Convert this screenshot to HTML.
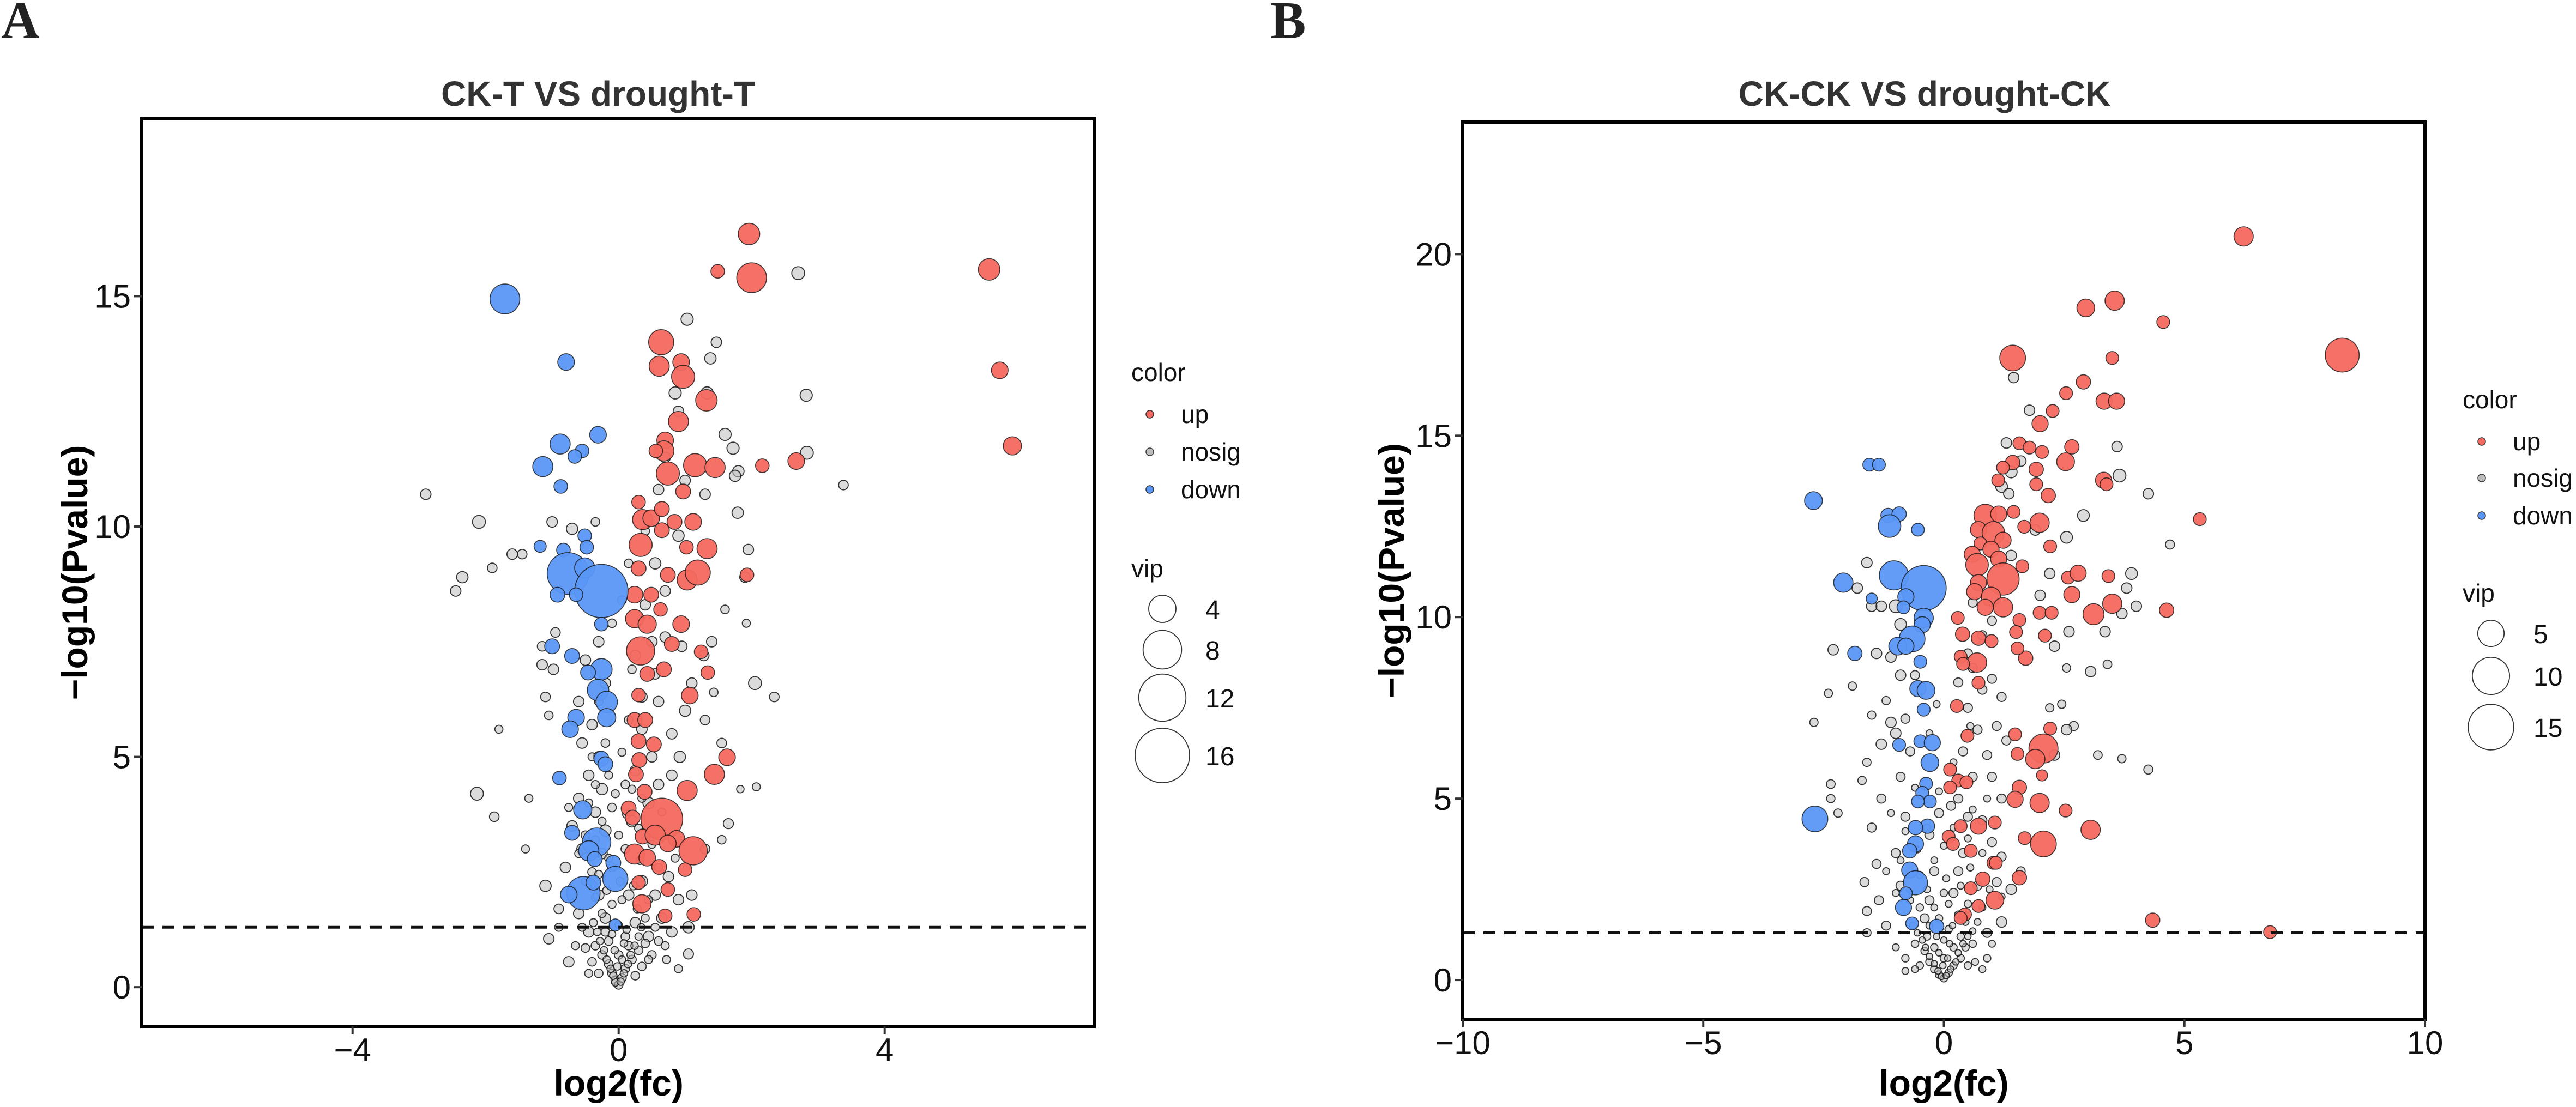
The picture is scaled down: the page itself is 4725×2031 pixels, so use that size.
<!DOCTYPE html>
<html><head><meta charset="utf-8"><style>
html,body{margin:0;padding:0;background:#fff;}
svg{display:block;}
</style></head><body>
<svg id="fig" width="4725" height="2031" viewBox="0 0 4725 2031" xmlns="http://www.w3.org/2000/svg" font-family="Liberation Sans, Arial, sans-serif">
<rect width="4725" height="2031" fill="#fff"/>
<text x="2" y="70" style="font-family:'Liberation Serif',serif;font-weight:bold;font-size:98px" fill="#222">A</text>
<text x="2330" y="70" style="font-family:'Liberation Serif',serif;font-weight:bold;font-size:98px" fill="#222">B</text>
<g id="panelA"></g>
<g id="panelB"></g>
</svg>
<script>
// ---------- Panel A data: [log2fc, -log10p, vip] ----------
const aXTicks = [-4, 0, 4];
const aYTicks = [0, 5, 10, 15];
const aVipLegend = [4, 8, 12, 16];
const aUp = [
[1.96,16.35,2.5],[1.49,15.54,1],[2.0,15.4,4.8],[5.57,15.58,2.5],[5.73,13.39,1.5],[5.92,11.75,1.8],
[0.64,14.0,3.4],[0.61,13.48,2.2],[0.94,13.57,1.5],[0.97,13.25,2.9],[1.32,12.74,2.5],[0.9,12.28,2.2],
[0.7,11.87,1.5],[0.68,11.64,2.2],[0.74,11.15,2.9],[0.56,11.64,1],[1.15,11.33,2.9],[1.45,11.28,2.2],
[2.16,11.32,1],[2.67,11.42,1.5],[0.97,10.76,1.2],[0.3,10.53,1],[0.36,10.15,2.2],[0.49,10.18,1.5],
[0.65,10.38,1.2],[0.84,10.1,1.2],[1.12,10.1,1.5],[0.33,9.6,2.9],[0.65,9.92,1.2],[1.02,9.55,1],
[1.33,9.52,2.2],[0.3,9.09,1.2],[0.74,8.95,1.2],[1.03,8.84,2.2],[1.19,9.0,3.4],[1.93,8.95,1],
[0.24,8.52,1.5],[0.49,8.52,1.2],[0.63,8.2,1],[0.24,8.0,1.8],[0.43,7.88,1.8],[0.94,7.88,1.5],
[0.8,7.45,1.2],[1.24,7.28,1],[0.33,7.3,4.3],[0.68,6.9,1.2],[0.43,6.8,1.2],[1.34,6.83,1],
[0.3,6.34,1],[1.07,6.33,1.5],[0.24,5.8,1.2],[0.4,5.8,1.2],[0.3,5.34,1.2],[0.53,5.27,1.2],
[0.31,4.93,1.2],[1.63,4.99,1.5],[1.44,4.62,2.2],[1.03,4.27,2.2],[0.26,4.62,1.2],[0.39,4.24,1.2],
[0.15,3.88,1.2],[0.21,3.68,1.2],[0.65,3.65,9.4],[0.36,3.27,1.2],[0.55,3.3,2.2],[0.87,3.22,1.5],
[1.12,2.96,4.3],[0.24,2.89,2.2],[0.43,2.81,1.5],[0.74,3.12,1.5],[0.61,2.61,1.2],[0.3,2.27,1],
[0.35,1.81,1.8],[0.7,1.55,1],[1.13,1.58,1],[1.0,2.55,1],[0.74,2.12,1]
];
const aDown = [
[-1.71,14.94,4.8],[-0.79,13.57,1.5],[-0.31,11.99,1.5],[-0.88,11.79,2.2],[-0.55,11.64,1],[-0.66,11.52,1],
[-1.14,11.3,2.2],[-0.87,10.87,1],[-0.51,9.8,1],[-0.48,9.55,1],[-0.83,9.49,1],[-1.18,9.57,0.8],
[-0.76,8.98,9.4],[-0.51,9.1,2.2],[-0.26,8.6,15.3],[-0.92,8.52,1.2],[-0.64,8.52,1],[-0.26,7.88,1],
[-1.0,7.4,1.2],[-0.7,7.19,1.2],[-0.26,6.9,2.5],[-0.46,6.83,1.2],[-0.31,6.45,2.5],[-0.18,6.19,2.5],
[-0.64,5.85,1.5],[-0.18,5.85,1.8],[-0.73,5.6,1.5],[-0.26,4.96,1.2],[-0.2,4.84,1.2],[-0.89,4.54,1],
[-0.54,3.85,1.8],[-0.7,3.35,1.2],[-0.33,3.15,4.3],[-0.45,2.96,2.2],[-0.36,2.78,1.2],[-0.08,2.7,1.2],
[-0.05,2.35,3.4],[-0.53,2.04,6],[-0.75,2.01,1.5],[-0.38,2.27,1.2],[-0.05,1.35,0.8]
];
const aNosig = [
[-2.9,10.7,0.6],[-2.1,10.1,0.9],[-2.35,8.9,0.7],[-2.45,8.6,0.6],[-1.9,9.1,0.5],[-1.6,9.4,0.6],[-1.45,9.4,0.5],
[-1.0,10.1,0.6],[-0.7,9.95,0.7],[1.03,14.5,0.8],[1.47,14.0,0.6],[1.38,13.65,0.7],[1.33,12.9,0.8],[2.82,12.85,0.8],
[1.6,12.0,0.8],[1.72,11.7,0.8],[2.83,11.6,0.9],[1.8,11.2,0.7],[1.75,11.1,0.7],[3.38,10.9,0.5],[1.79,10.3,0.7],
[1.95,9.5,0.6],[1.9,8.9,0.6],[1.6,8.2,0.4],[1.92,7.9,0.35],[2.05,6.6,0.9],[2.34,6.3,0.5],[2.7,15.5,0.9],
[2.07,4.35,0.35],[1.83,4.3,0.3],[-2.13,4.2,0.9],[-1.87,3.7,0.5],[-1.35,4.1,0.35],[-1.8,5.6,0.35],[-1.4,3.0,0.35],
[-1.15,7.4,0.5],[-1.15,7.0,0.6],[-0.98,6.9,0.6],[-1.1,6.3,0.5],[-1.05,5.9,0.4],[-0.95,7.7,0.5],[-1.1,2.2,0.7],
[-1.05,1.05,0.6],[-0.9,1.7,0.5],[-0.75,0.55,0.6],[1.05,1.3,0.7],[1.05,0.72,0.55],[0.72,0.6,0.35],[1.1,2.0,0.6],
[1.3,3.0,0.5],[1.55,3.2,0.4],[1.65,3.55,0.55],[1.55,5.3,0.5],[1.43,6.4,0.4],[1.3,5.8,0.5],[1.4,7.5,0.6],
[1.28,7.2,0.6],[1.0,6.0,0.7],[0.92,5.0,0.7],[0.8,5.5,0.6],[0.6,6.2,0.6],[0.5,7.5,0.6],[0.7,8.6,0.6],
[0.55,9.2,0.7],[0.9,9.8,0.7],[1.3,10.7,0.6],[1.0,11.0,0.6],[0.7,11.5,0.6],[0.9,12.5,0.6],[0.85,12.9,0.8],
[0.6,10.8,0.6],[-0.3,7.5,0.6],[-0.5,7.1,0.6],[-0.2,6.6,0.6],[-0.6,6.2,0.6],[-0.4,5.7,0.6],[-0.55,5.3,0.6],
[-0.3,5.0,0.6],[-0.45,4.6,0.6],[-0.25,4.3,0.7],[-0.6,4.1,0.6],[-0.35,3.8,0.6],[-0.7,3.5,0.6],[-0.2,3.4,0.7],
[-0.55,3.0,0.6],[-0.8,2.6,0.6],[-0.25,2.9,0.6],[0.2,3.6,0.7],[0.45,4.0,0.7],[0.25,4.7,0.6],[0.5,5.0,0.6],
[0.35,5.6,0.6],[0.6,4.4,0.6],[0.8,4.6,0.6],[0.35,6.3,0.6],[0.55,6.8,0.6],[0.25,7.2,0.6],[0.7,7.6,0.6],
[0.4,8.3,0.6],[0.95,7.4,0.6],[1.1,6.6,0.6],[0.15,2.0,0.6],[0.35,2.3,0.7],[0.55,2.0,0.6],[0.75,2.4,0.6],
[0.9,1.9,0.6],[-0.3,2.0,0.6],[-0.6,1.6,0.6],[-0.45,1.2,0.6],[-0.2,1.5,0.6],[0.25,1.4,0.6],[0.45,1.1,0.6],
[0.65,1.5,0.6],[0.8,1.2,0.6],[-0.35,0.9,0.4],[-0.25,0.7,0.4],[-0.15,0.5,0.4],[-0.1,0.3,0.4],[-0.05,0.15,0.4],
[0,0.05,0.4],[0.05,0.2,0.4],[0.1,0.4,0.4],[0.2,0.6,0.4],[0.3,0.8,0.4],[0.4,0.95,0.4],[0.5,0.7,0.4],
[0.35,0.45,0.4],[-0.4,0.55,0.4],[-0.5,0.85,0.4],[0.6,1.0,0.4],[0.15,0.9,0.4],[-0.15,1.0,0.4],[0.0,0.7,0.4],
[-0.3,0.3,0.4],[0.25,0.25,0.4],[-0.2,1.2,0.4],[0.1,1.1,0.4],[-0.4,2.5,0.4],[-0.1,2.6,0.4],[0.1,3.0,0.4],
[-0.5,3.3,0.4],[-0.1,3.9,0.4],[0.1,4.4,0.4],[-0.2,5.3,0.4],[0.15,5.8,0.4],[-0.3,6.2,0.4],[0.2,6.9,0.4],
[-0.1,7.9,0.4],[0.05,8.4,0.4],[0.15,9.2,0.4],[0.4,9.9,0.4],[-0.35,10.1,0.4],
[-0.05,0.1,0.3],[0.03,0.12,0.3],[-0.08,0.25,0.3],[0.08,0.3,0.3],[-0.12,0.4,0.3],[0.14,0.5,0.3],[-0.18,0.6,0.3],
[0.18,0.7,0.3],[-0.22,0.8,0.3],[0.24,0.9,0.3],[-0.28,1.0,0.3],[0.3,1.1,0.3],[-0.32,1.2,0.3],[0.34,1.3,0.3],
[-0.02,0.45,0.3],[0.05,0.6,0.3],[-0.06,0.8,0.3],[0.08,0.95,0.3],[-0.1,1.15,0.3],[0.12,1.25,0.3],[0.0,1.35,0.3],
[-0.38,1.4,0.35],[0.4,1.5,0.35],[-0.25,1.6,0.35],[0.28,1.7,0.35],[-0.1,1.8,0.35],[0.05,1.9,0.35],[-0.35,1.95,0.35],
[0.45,1.9,0.35],[-0.18,2.1,0.35],[0.22,2.2,0.35],[-0.5,2.3,0.35],[0.6,2.6,0.35],[-0.3,2.45,0.35],[0.02,2.3,0.35],
[0.32,2.75,0.35],[-0.15,2.8,0.35],[-0.6,2.9,0.35],[0.5,3.1,0.35],[-0.35,3.2,0.35],[0.0,3.3,0.35],[0.3,3.45,0.35],
[-0.25,3.6,0.35],[0.12,3.75,0.35],[-0.45,4.0,0.35],[0.35,4.1,0.35],[-0.05,4.2,0.35],[0.2,4.3,0.35],[-0.35,4.4,0.35],
[0.55,1.3,0.35],[-0.55,1.3,0.35],[0.7,0.9,0.35],[-0.65,0.9,0.35],[0.45,0.6,0.35],[-0.45,0.3,0.35],[0.9,0.4,0.35],
[-0.9,1.3,0.35],[0.85,2.8,0.35],[-0.75,3.9,0.35],[0.65,3.8,0.35],[-0.15,4.6,0.35],[0.05,5.1,0.35],[-0.4,5.0,0.35]
];

// ---------- Panel B data ----------
const bXTicks = [-10, -5, 0, 5, 10];
const bYTicks = [0, 5, 10, 15, 20];
const bVipLegend = [5, 10, 15];
const bUp = [
[6.23,20.49,2.7],[8.28,17.22,8.3],[2.95,18.52,2.3],[3.55,18.72,2.7],[4.56,18.13,1.2],[1.43,17.14,4.8],
[3.5,17.14,1.2],[2.9,16.48,1.5],[2.54,16.17,1.2],[2.26,15.68,1.2],[3.33,15.95,1.9],[3.59,15.95,1.9],
[2.0,15.33,1.9],[1.57,14.79,1.2],[1.78,14.67,1.2],[2.04,14.55,1.2],[2.66,14.69,1.5],[1.43,14.26,1.5],
[1.23,14.12,1.2],[2.53,14.28,2.3],[1.92,14.07,1.5],[1.92,13.66,1.2],[3.32,13.77,1.9],[3.38,13.66,1.2],
[1.13,13.77,1.2],[2.17,13.35,1.5],[5.32,12.7,1.2],[0.86,12.8,3.7],[1.14,12.84,1.9],[1.45,12.9,1.2],
[1.99,12.6,2.7],[0.72,12.41,1.9],[1.03,12.32,3.7],[1.23,12.12,1.9],[1.67,12.49,1.2],[0.76,12.03,1.2],
[0.98,11.87,1.9],[0.59,11.73,1.9],[2.21,11.95,1.2],[1.14,11.6,1.9],[0.69,11.44,3.7],[1.63,11.4,1.2],
[1.23,11.05,7.5],[0.72,10.95,1.9],[2.58,11.09,1.2],[2.79,11.21,1.9],[3.42,11.13,1.2],[0.64,10.7,1.9],
[0.98,10.56,2.7],[0.86,10.27,1.9],[1.23,10.27,2.7],[2.66,10.62,1.9],[3.5,10.37,2.7],[3.11,10.08,3.2],
[1.99,10.12,1.2],[2.24,10.12,1.2],[4.63,10.19,1.5],[0.29,9.98,1.2],[1.57,9.92,1.2],[0.39,9.53,1.5],
[0.72,9.42,1.5],[0.99,9.34,1.2],[1.5,9.59,1.2],[0.35,8.91,1.2],[0.69,8.75,2.7],[0.4,8.71,1.2],
[1.7,8.87,1.5],[1.53,9.14,1.2],[2.1,9.49,1.2],[0.72,8.19,1.2],[0.27,7.55,1.2],[0.49,6.73,1.2],
[1.48,6.77,1.2],[2.21,6.93,1.2],[2.07,6.38,6.1],[1.9,6.09,2.7],[1.53,6.23,1.2],[0.13,5.8,1.2],
[2.04,5.64,0.9],[0.3,5.5,1.2],[0.47,5.45,1.2],[0.13,5.31,1.2],[1.57,5.31,1.5],[1.48,4.98,1.9],
[1.99,4.88,2.7],[2.53,4.67,1.2],[1.06,4.34,1.2],[0.35,4.24,1.2],[0.72,4.24,1.9],[3.05,4.14,2.7],
[2.07,3.75,4.8],[1.68,3.91,1.2],[0.1,3.95,1.2],[0.19,3.75,1.2],[0.56,3.56,1.2],[1.03,3.23,1.2],
[1.08,3.23,1.2],[0.81,2.78,1.5],[1.57,2.82,1.5],[0.56,2.53,1.2],[1.06,2.2,2.3],[0.72,2.04,1.2],
[0.44,1.81,1.2],[0.35,1.71,1.2],[4.34,1.65,1.5],[6.78,1.32,1.2]
];
const bDown = [
[-1.55,14.2,1.2],[-1.35,14.2,1.2],[-2.71,13.21,2.3],[-1.16,12.8,1.5],[-0.93,12.84,1.5],[-1.13,12.51,3.7],
[-0.54,12.41,1.2],[-2.09,10.95,2.7],[-1.5,10.51,0.9],[-1.04,11.15,6.1],[-0.42,10.8,14.7],[-0.79,10.56,1.9],
[-0.84,10.27,1.2],[-0.42,9.98,2.7],[-0.45,9.79,1.9],[-0.66,9.4,4.8],[-0.96,9.2,2.3],[-0.79,9.2,1.9],
[-1.85,9.0,1.5],[-0.49,8.77,1.2],[-0.54,8.03,1.9],[-0.37,7.98,2.3],[-0.42,7.45,1.2],[-0.49,6.58,1.2],
[-0.24,6.54,1.9],[-0.93,6.48,1.2],[-0.29,5.99,2.3],[-0.37,5.41,1.2],[-0.45,5.16,1.2],[-0.29,4.92,1.2],
[-0.54,4.92,1.2],[-2.68,4.44,4.8],[-0.34,4.24,1.5],[-0.59,4.2,1.5],[-0.59,3.75,1.9],[-0.71,3.56,1.5],
[-0.71,3.03,1.9],[-0.59,2.68,4.2],[-0.79,2.39,1.2],[-0.84,2.0,1.9],[-0.66,1.56,1.2],[-0.15,1.48,1.5]
];
const bNosig = [
[1.45,16.6,0.8],[1.78,15.7,0.8],[1.3,14.8,0.8],[1.4,14.0,1.0],[1.6,14.3,0.8],[3.6,14.7,0.8],[3.65,13.9,1.2],
[4.25,13.4,0.8],[1.2,13.6,1.0],[1.35,13.4,0.8],[2.9,12.8,1.0],[2.55,12.2,1.0],[4.7,12.0,0.6],[1.4,11.7,0.8],
[1.9,12.4,0.8],[2.2,11.2,0.8],[2.0,10.6,0.8],[3.9,11.2,1.0],[3.8,10.8,0.8],[4.0,10.3,0.8],[3.7,10.1,0.8],
[3.35,9.6,0.8],[2.6,9.6,0.8],[2.3,9.2,0.8],[3.05,8.5,0.8],[3.4,8.7,0.55],[2.55,8.6,0.5],[2.2,7.5,0.5],
[2.45,7.6,0.5],[2.7,7.0,0.6],[2.55,6.9,0.8],[3.2,6.2,0.55],[3.7,6.1,0.5],[4.25,5.8,0.6],[2.3,6.2,0.8],
[-1.6,11.5,0.8],[-1.8,10.8,0.8],[-1.5,10.3,0.8],[-1.3,10.3,0.8],[-1.0,10.3,1.2],[-0.9,9.8,1.0],[-2.3,9.1,0.8],
[-1.4,9.0,0.8],[-1.1,8.9,0.8],[-0.9,8.4,0.8],[-2.4,7.9,0.5],[-1.9,8.1,0.5],[-1.2,7.7,0.5],[-1.5,7.3,0.5],
[-2.7,7.1,0.5],[-1.1,7.1,0.8],[-1.3,6.5,0.8],[-1.0,6.8,0.8],[-1.6,6.0,0.5],[-1.7,5.5,0.5],[-2.35,5.4,0.55],
[-2.35,5.0,0.5],[-2.2,4.6,0.5],[-1.3,5.0,0.6],[-1.5,4.2,0.6],[-1.4,3.2,0.6],[-1.65,2.7,0.6],[-1.35,2.2,0.6],
[-1.6,1.9,0.6],[-1.2,1.5,0.6],[-1.6,1.3,0.5],[-0.9,2.6,0.6],[-1.0,3.5,0.6],[-0.8,4.5,0.6],[-0.9,5.6,0.6],
[-0.7,6.3,0.6],[-0.8,7.2,0.6],[-0.6,8.4,0.6],[-0.2,3.0,0.6],[-0.3,2.2,0.6],[-0.4,1.7,0.6],[0.2,2.4,0.6],
[0.3,3.0,0.6],[0.4,3.5,0.6],[0.5,4.5,0.6],[0.3,5.0,0.6],[0.6,5.6,0.6],[0.4,6.3,0.6],[0.7,6.9,0.6],
[0.5,7.5,0.6],[0.8,8.0,0.6],[0.6,8.6,0.6],[1.0,8.3,0.6],[1.2,7.8,0.6],[1.1,7.0,0.6],[0.9,6.2,0.6],
[1.3,6.6,0.6],[1.0,5.6,0.6],[1.2,5.0,0.6],[0.8,4.4,0.6],[1.0,3.8,0.6],[1.2,3.4,0.6],[1.4,2.5,0.8],
[1.6,3.0,0.55],[1.1,2.7,0.6],[1.2,1.6,0.8],[0.9,1.3,0.6],[0.7,2.6,0.6],[0.8,9.5,0.6],[0.6,10.4,0.6],
[1.0,9.9,0.6],[0.5,9.0,0.6],[0.3,8.2,0.6],[-0.3,4.0,0.6],[-0.1,4.6,0.6],[0.15,4.8,0.6],
[-0.6,1.0,0.4],[-0.4,0.8,0.4],[-0.3,0.5,0.4],[-0.2,0.3,0.4],[-0.1,0.15,0.4],[0,0.05,0.4],[0.1,0.2,0.4],
[0.2,0.4,0.4],[0.35,0.6,0.4],[0.45,0.9,0.4],[0.6,1.0,0.4],[0.2,0.9,0.4],[-0.2,0.9,0.4],[0,0.6,0.4],
[-0.5,0.4,0.4],[0.5,0.4,0.4],[0.35,1.2,0.4],[-0.35,1.2,0.4],[0.9,0.6,0.4],[-0.8,0.6,0.4],[0.1,1.4,0.4],
[-0.1,1.7,0.4],[0.3,1.8,0.4],[-0.5,2.0,0.4],[0.5,2.1,0.4],[0.0,2.4,0.4],
[-0.05,0.1,0.3],[0.05,0.12,0.3],[-0.12,0.25,0.3],[0.14,0.3,0.3],[-0.2,0.45,0.3],[0.25,0.5,0.3],[-0.3,0.65,0.3],
[0.3,0.75,0.3],[-0.38,0.9,0.3],[0.4,1.0,0.3],[-0.45,1.1,0.3],[0.5,1.2,0.3],[-0.55,1.3,0.3],[0.6,1.35,0.3],
[-0.02,0.4,0.3],[0.08,0.6,0.3],[-0.1,0.75,0.3],[0.12,1.0,0.3],[-0.15,1.2,0.3],[0.18,1.5,0.3],[0.0,1.1,0.3],
[-0.65,1.5,0.35],[0.7,1.6,0.35],[-0.3,1.5,0.35],[0.45,1.6,0.35],[-0.2,2.0,0.35],[0.1,2.1,0.35],[-0.7,2.2,0.35],
[0.8,2.0,0.35],[-0.35,2.5,0.35],[0.35,2.6,0.35],[-1.0,2.4,0.35],[0.95,2.5,0.35],[-0.5,2.9,0.35],[0.05,2.8,0.35],
[0.55,3.1,0.35],[-0.2,3.3,0.35],[-0.9,3.3,0.35],[0.8,3.5,0.35],[-0.55,3.6,0.35],[0.0,3.7,0.35],[0.5,3.9,0.35],
[-0.35,4.2,0.35],[0.2,4.2,0.35],[-0.8,4.1,0.35],[0.6,4.7,0.35],[-0.1,5.2,0.35],[0.35,5.5,0.35],[-0.6,5.3,0.35],
[0.8,0.3,0.35],[-0.8,0.25,0.35],[1.0,1.0,0.35],[-1.0,0.9,0.35],[0.65,0.5,0.35],[-0.6,0.3,0.35],[1.2,2.3,0.35],
[-1.2,3.0,0.35],[0.9,5.0,0.35],[-1.1,4.6,0.35],[0.2,6.0,0.35],[-0.3,6.8,0.35],[0.55,7.0,0.35],[-0.15,7.6,0.35]
];
const pThreshold = 1.301;

const NS = "http://www.w3.org/2000/svg";
function mk(tag, attrs, parent) {
  const e = document.createElementNS(NS, tag);
  for (const k in attrs) e.setAttribute(k, attrs[k]);
  parent.appendChild(e);
  return e;
}
const COLORS = {up:"#F4695F", nosig:"#bdbdbd", down:"#5A97F5"};

function drawPanel(g, cfg) {
  const sx = v => cfg.x0 + (v - cfg.xmin) / (cfg.xmax - cfg.xmin) * (cfg.x1 - cfg.x0);
  const sy = v => cfg.y1 - (v - cfg.ymin) / (cfg.ymax - cfg.ymin) * (cfg.y1 - cfg.y0);
  const rs = vip => cfg.k * Math.sqrt(vip);
  const t = mk("text", {x: cfg.titleX, y: 194, "text-anchor": "middle", "font-size": 64, "font-weight": "bold", fill: "#333"}, g);
  t.textContent = cfg.title;
  
  
  const groups = [["nosig", cfg.nosig], ["up", cfg.up], ["down", cfg.down]];
  groups.forEach(([name, arr]) => {
    const pg = mk("g", {}, g);
    
    
    arr.forEach(d => {
      const c = mk("circle", {cx: sx(d[0]), cy: sy(d[1]), r: rs(d[2]),
        fill: COLORS[name], "fill-opacity": name === "nosig" ? 0.55 : 0.95,
        stroke: "#111", "stroke-opacity": name === "nosig" ? 0.85 : 0.8, "stroke-width": name === "nosig" ? 1.8 : 1.6}, pg);
      
      
    });
  });
  const hl = mk("line", {x1: cfg.x0, x2: cfg.x1, y1: sy(pThreshold), y2: sy(pThreshold), stroke: "#111", "stroke-width": 5, "stroke-dasharray": "22 16"}, g);
  
  
  const fr = mk("rect", {x: cfg.x0, y: cfg.y0, width: cfg.x1 - cfg.x0, height: cfg.y1 - cfg.y0, fill: "none", stroke: "#000", "stroke-width": 6}, g);
  
  
  cfg.xticks.forEach(v => {
    const tk = mk("line", {x1: sx(v), x2: sx(v), y1: cfg.y1, y2: cfg.y1 + 14, stroke: "#333", "stroke-width": 4}, g);
    
    
    const tl = mk("text", {x: sx(v), y: cfg.y1 + 64, "text-anchor": "middle", "font-size": 60, fill: "#111"}, g);
    tl.textContent = v < 0 ? "\u2212" + Math.abs(v) : String(v);
    
    
  });
  cfg.yticks.forEach(v => {
    const tk = mk("line", {x1: cfg.x0 - 14, x2: cfg.x0, y1: sy(v), y2: sy(v), stroke: "#333", "stroke-width": 4}, g);
    
    
    const tl = mk("text", {x: cfg.x0 - 20, y: sy(v) + 21, "text-anchor": "end", "font-size": 60, fill: "#111"}, g);
    tl.textContent = String(v);
    
    
  });
  const xt = mk("text", {x: sx(0), y: 2010, "text-anchor": "middle", "font-size": 66, "font-weight": "bold", fill: "#000"}, g);
  xt.textContent = "log2(fc)";
  
  
  const yt = mk("text", {x: 0, y: 0, transform: `translate(${cfg.yTitleX},${(cfg.y0 + cfg.y1) / 2}) rotate(-90)`, "text-anchor": "middle", "font-size": 66, "font-weight": "bold", fill: "#000"}, g);
  yt.textContent = "\u2212log10(Pvalue)";
  
  
  const L = cfg.leg;
  const lg = mk("g", {}, g);
  
  
  const ct = mk("text", {x: L.x, y: L.colorY + 16, "font-size": 46, fill: "#111"}, lg);
  ct.textContent = "color";
  
  
  ["up", "nosig", "down"].forEach((n, i) => {
    const yy = L.itemY[i];
    const dot = mk("circle", {cx: L.dotX, cy: yy, r: 7, fill: COLORS[n], stroke: "#333", "stroke-width": 1.5}, lg);
    
    
    const tx = mk("text", {x: L.textX, y: yy + 16, "font-size": 46, fill: "#111"}, lg);
    tx.textContent = n;
    
    
  });
  const vt = mk("text", {x: L.x, y: L.vipY + 16, "font-size": 46, fill: "#111"}, lg);
  vt.textContent = "vip";
  
  
  cfg.vipLegend.forEach((v, i) => {
    const yy = L.sizeY[i];
    const c = mk("circle", {cx: L.circX, cy: yy, r: rs(v), fill: "none", stroke: "#333", "stroke-width": 1.8}, lg);
    
    
    const tx = mk("text", {x: L.sizeTextX, y: yy + 18, "font-size": 48, fill: "#111"}, lg);
    tx.textContent = String(v);
    
    
  });
}

drawPanel(document.getElementById("panelA"), {
  x0: 260, x1: 2007, y0: 218, y1: 1883, xmin: -7.17, xmax: 7.15, ymin: -0.85, ymax: 18.85,
  k: 12.5, title: "CK-T VS drought-T", titleX: 1097, yTitleX: 160,
  up: aUp, down: aDown, nosig: aNosig, xticks: aXTicks, yticks: aYTicks, vipLegend: aVipLegend,
  leg: {x: 2075, colorY: 683, dotX: 2109, textX: 2166, itemY: [760, 829, 898], vipY: 1043,
        circX: 2132, sizeY: [1117, 1192, 1280, 1386], sizeTextX: 2211}
});
drawPanel(document.getElementById("panelB"), {
  x0: 2683, x1: 4448, y0: 224, y1: 1870, xmin: -10, xmax: 10, ymin: -1.08, ymax: 23.64,
  k: 10.8, title: "CK-CK VS drought-CK", titleX: 3530, yTitleX: 2575,
  up: bUp, down: bDown, nosig: bNosig, xticks: bXTicks, yticks: bYTicks, vipLegend: bVipLegend,
  leg: {x: 4517, colorY: 733, dotX: 4552, textX: 4609, itemY: [810, 877, 946], vipY: 1088,
        circX: 4569, sizeY: [1162, 1240, 1334], sizeTextX: 4647}
});
</script>
</body></html>
